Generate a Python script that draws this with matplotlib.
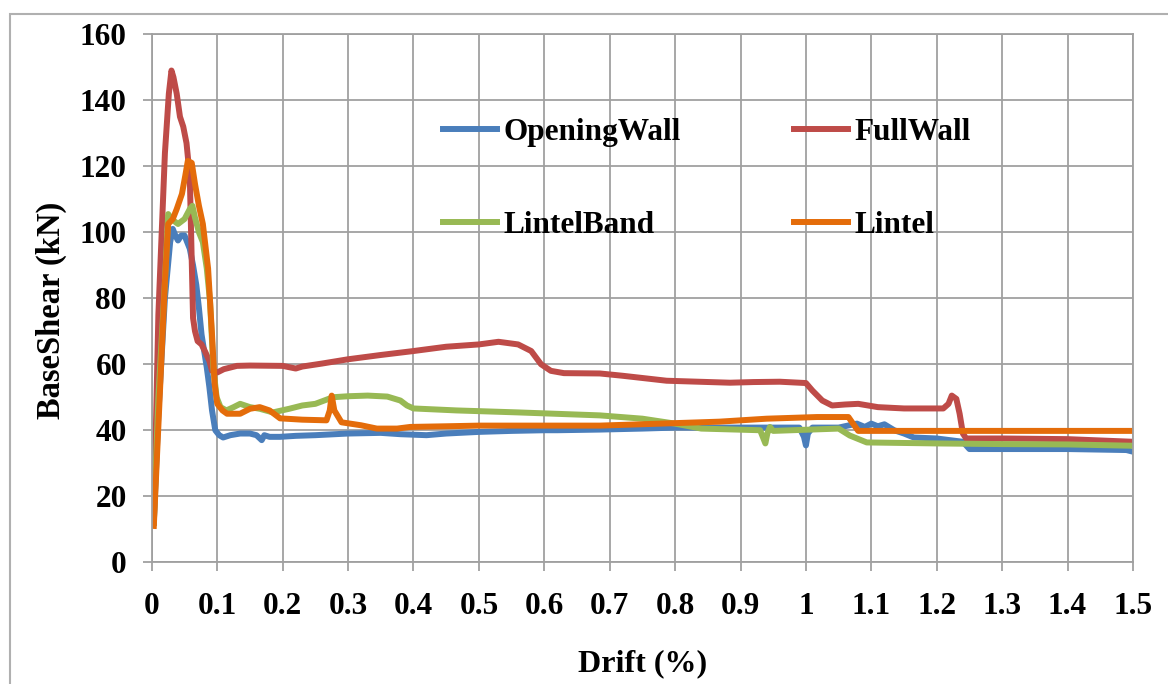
import matplotlib
matplotlib.use('Agg')
import matplotlib.pyplot as plt
from matplotlib.patches import Rectangle

# Drift (%) vs base shear (kN) for the four wall configurations
opening_drift = [0.003, 0.01, 0.02, 0.028, 0.032, 0.036, 0.04, 0.045, 0.05, 0.054, 0.058, 0.063,
                 0.068, 0.072, 0.076, 0.08, 0.084, 0.088, 0.092, 0.097, 0.103, 0.109, 0.12, 0.135,
                 0.15, 0.16, 0.168, 0.172, 0.18, 0.196, 0.22, 0.25, 0.3, 0.35, 0.38, 0.42, 0.45,
                 0.5, 0.55, 0.6, 0.62, 0.685, 0.75, 0.8, 0.85, 0.88, 0.95, 0.99, 0.997, 1.0, 1.003,
                 1.01, 1.05, 1.078, 1.09, 1.1, 1.11, 1.12, 1.135, 1.15, 1.165, 1.2, 1.24, 1.25,
                 1.3, 1.4, 1.49, 1.5]
opening_shear = [12, 45, 80, 97, 101, 99, 97.5, 99, 99, 97, 95, 90,
                 84, 77, 69, 64, 59, 53, 46, 40, 38.5, 37.8, 38.5, 39,
                 39, 38.5, 37, 38.5, 38, 38, 38.3, 38.5, 39, 39.2, 38.8, 38.5, 39,
                 39.5, 39.8, 40, 40, 40.2, 40.5, 40.8, 40.8, 40.8, 40.8, 40.8, 38, 35.4, 39,
                 40.8, 40.8, 42, 41, 42, 41.2, 41.8, 40, 39, 37.8, 37.5, 36.5, 34.3,
                 34.3, 34.3, 34, 33.5]

full_drift = [0.003, 0.01, 0.02, 0.026, 0.03, 0.033, 0.038, 0.043, 0.048, 0.053, 0.058, 0.06,
              0.063, 0.066, 0.07, 0.076, 0.081, 0.088, 0.092, 0.1, 0.11, 0.13, 0.15, 0.2, 0.22,
              0.23, 0.26, 0.3, 0.35, 0.4, 0.45, 0.5, 0.53, 0.56, 0.58, 0.595, 0.61, 0.63, 0.685,
              0.72, 0.787, 0.884, 0.92, 0.96, 1.0, 1.01, 1.025, 1.04, 1.06, 1.08, 1.11, 1.15,
              1.21, 1.218, 1.223, 1.23, 1.235, 1.24, 1.245, 1.3, 1.4, 1.5]
full_shear = [12, 75, 124, 142, 149, 147, 142, 135, 132, 127, 117, 100,
              74, 70, 67, 66, 64, 61, 58, 57.5, 58.5, 59.5, 59.6, 59.5, 58.7,
              59.3, 60.2, 61.5, 62.8, 64, 65.3, 66, 66.8, 66, 64, 60, 58, 57.3, 57.2,
              56.5, 55, 54.4, 54.6, 54.7, 54.3, 52, 49, 47.5, 47.8, 48, 47, 46.6,
              46.6, 48, 50.5, 49.5, 45, 39, 37.5, 37.5, 37.3, 36.5]

band_drift = [0.003, 0.01, 0.02, 0.025, 0.03, 0.04, 0.05, 0.058, 0.062, 0.066, 0.072, 0.078,
              0.084, 0.089, 0.094, 0.099, 0.105, 0.114, 0.125, 0.135, 0.15, 0.165, 0.185, 0.21,
              0.23, 0.25, 0.277, 0.3, 0.33, 0.36, 0.38, 0.39, 0.4, 0.466, 0.56, 0.685, 0.75,
              0.8, 0.84, 0.93, 0.938, 0.941, 0.945, 0.95, 1.05, 1.067, 1.093, 1.2, 1.3, 1.4, 1.5]
band_shear = [12, 50, 85, 105.5, 104, 102.5, 104, 107, 108, 104.4, 100, 97,
              89, 79, 59, 50, 47, 46, 47, 48, 47, 46.5, 45.4, 46.5,
              47.5, 48, 50, 50.3, 50.5, 50.2, 49, 47.5, 46.6, 46, 45.4, 44.5, 43.5,
              42, 40.5, 40, 36, 39, 41, 39.8, 40.5, 38.4, 36.3, 36, 35.8, 35.7, 35.3]

lintel_drift = [0.003, 0.012, 0.02, 0.025, 0.032, 0.038, 0.046, 0.051, 0.055, 0.061, 0.066, 0.072,
                0.078, 0.086, 0.092, 0.096, 0.1, 0.108, 0.115, 0.135, 0.15, 0.165, 0.18, 0.196,
                0.23, 0.267, 0.272, 0.275, 0.279, 0.29, 0.32, 0.344, 0.375, 0.395, 0.45, 0.5,
                0.6, 0.685, 0.777, 0.868, 0.94, 1.017, 1.065, 1.072, 1.08, 1.2, 1.3, 1.4, 1.5]
lintel_shear = [11, 50, 85, 102.5, 104, 107, 111.6, 117, 121.6, 121, 114.6, 108,
                102.5, 89, 69, 54, 48, 46, 45, 45, 46.5, 47, 46, 43.6,
                43.2, 43, 46, 50.5, 46, 42.4, 41.5, 40.5, 40.5, 41, 41.2, 41.4,
                41.4, 41.4, 42, 42.6, 43.5, 44, 44, 42, 39.8, 39.8, 39.8, 39.8, 39.8]

x_ticks = [0, 0.1, 0.2, 0.3, 0.4, 0.5, 0.6, 0.7, 0.8, 0.9, 1.0, 1.1, 1.2, 1.3, 1.4, 1.5]
x_labels = ['0', '0.1', '0.2', '0.3', '0.4', '0.5', '0.6', '0.7', '0.8', '0.9', '1',
            '1.1', '1.2', '1.3', '1.4', '1.5']
y_ticks = [0, 20, 40, 60, 80, 100, 120, 140, 160]

plt.rcParams['font.family'] = 'serif'
plt.rcParams['font.serif'] = ['Liberation Serif', 'Times New Roman', 'DejaVu Serif']
plt.rcParams['font.weight'] = 'bold'

fig = plt.figure(figsize=(11.68, 6.84), dpi=100)
ax = fig.add_axes([0.130, 0.178, 0.840, 0.772])

# chart area frame
fig.add_artist(Rectangle((10 / 1168, -0.1), 1.2, 1.1 - 14 / 684, transform=fig.transFigure,
                         fill=False, edgecolor='#b0b0b0', linewidth=1.5))

lw = 4.3
ax.plot(opening_drift, opening_shear, color='#4A7EBB', lw=lw, label='OpeningWall', solid_joinstyle='round')
ax.plot(full_drift, full_shear, color='#BE4B48', lw=lw, label='FullWall', solid_joinstyle='round')
ax.plot(band_drift, band_shear, color='#98B954', lw=lw, label='LintelBand', solid_joinstyle='round')
ax.plot(lintel_drift, lintel_shear, color='#E46C0A', lw=lw, label='Lintel', solid_joinstyle='round')

ax.set_xlim(0, 1.5)
ax.set_ylim(0, 160)
ax.set_xticks(x_ticks)
ax.set_xticklabels(x_labels)
ax.set_yticks(y_ticks)
ax.grid(True, color='#a0a0a0', lw=1.3)
ax.set_axisbelow(True)
for s in ax.spines.values():
    s.set_color('#a0a0a0')
    s.set_linewidth(1.3)
ax.tick_params(axis='both', colors='#a0a0a0', labelcolor='black', labelsize=22.5,
               length=6.5, width=1.3, direction='out')
ax.tick_params(axis='x', pad=15)
ax.tick_params(axis='y', pad=11.5)

ax.set_xlabel('Drift (%)', fontsize=23, fontweight='bold', labelpad=20)
ax.set_ylabel('BaseShear (kN)', fontsize=23.5, fontweight='bold')
ax.yaxis.set_label_coords(-0.086, 0.477)

# legend filled row by row: OpeningWall, FullWall / LintelBand, Lintel
h, l = ax.get_legend_handles_labels()
order = [0, 2, 1, 3]
ax.legend([h[i] for i in order], [l[i] for i in order], loc='upper left',
          bbox_to_anchor=(0.297, 0.841), ncol=2, frameon=False,
          fontsize=22.5, handlelength=1.73, handletextpad=0.2, columnspacing=3.62,
          labelspacing=2.05, borderpad=0, borderaxespad=0)

fig.savefig('out.png', dpi=100)
